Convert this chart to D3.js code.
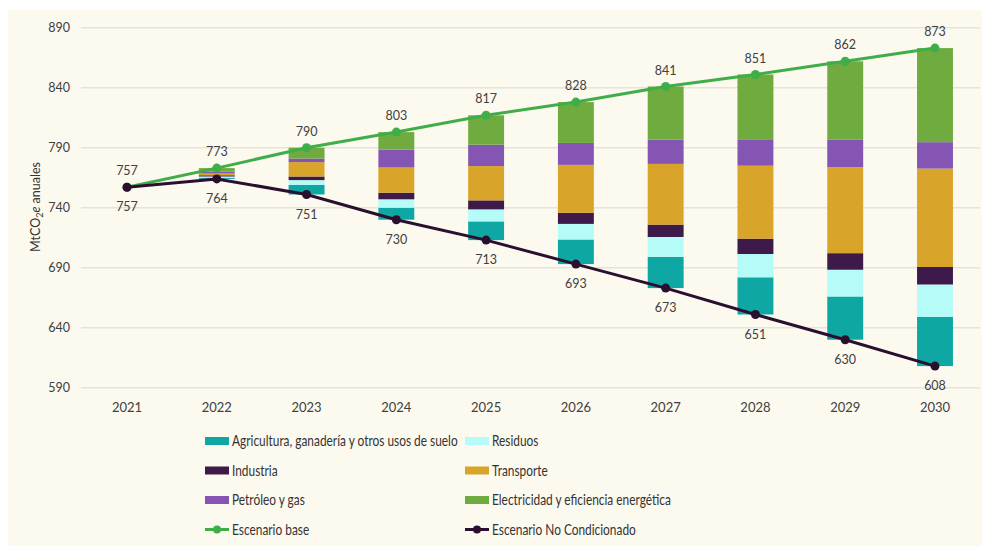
<!DOCTYPE html>
<html>
<head>
<meta charset="utf-8">
<script src="https://cdn.jsdelivr.net/npm/d3@7"></script>
<style>
  body { margin: 0; background: #ffffff; }
  text { font-family: Lato, "Open Sans", sans-serif; }
</style>
</head>
<body>
<script>
var width = 982;
var height = 546;

var years = ["2021","2022","2023","2024","2025","2026","2027","2028","2029","2030"];
var base = [757, 773, 790, 803, 817, 828, 841, 851, 862, 873];
var noCond = [757, 764, 751, 730, 713, 693, 673, 651, 630, 608];

// reducciones por sector (apiladas desde el escenario no condicionado)
var agricultura = [0, 1, 8, 10, 15.6, 20.5, 26, 31, 36, 41];
var residuos = [0, 1, 4, 7, 10, 13, 16.6, 19.4, 22.3, 27];
var industria = [0, 1, 3, 5.5, 7.5, 9.2, 10.3, 12.8, 13.8, 14.6];
var transporte = [0, 1.5, 12, 21, 28.6, 40, 50.6, 60.8, 71.7, 82];
var petroleo = [0, 1.5, 3, 15, 17.8, 18.3, 20.2, 22, 22.8, 22];
var electricidad = [0, 3, 9, 14.5, 24.5, 34, 44.3, 54, 65.4, 78.4];

var yTicks = [590, 640, 690, 740, 790, 840, 890];

var sectors = [
  {name: "Agricultura, ganadería y otros usos de suelo", values: agricultura, color: "#0fa7a4"},
  {name: "Residuos", values: residuos, color: "#b5fbf7"},
  {name: "Industria", values: industria, color: "#3d1a4a"},
  {name: "Transporte", values: transporte, color: "#d9a42a"},
  {name: "Petróleo y gas", values: petroleo, color: "#8455b3"},
  {name: "Electricidad y eficiencia energética", values: electricidad, color: "#6fab3e"}
];

var svg = d3.select("body")
    .append("svg")
    .attr("width", width)
    .attr("height", height);

svg.append("rect")
    .attr("x", 8).attr("y", 10)
    .attr("width", width - 8).attr("height", height - 10)
    .attr("fill", "#fcf9ef");

var x = d3.scalePoint().domain(years).range([127, 935]);
var y = d3.scaleLinear().domain([590, 890]).range([387.7, 27.7]);
var barW = x.step() * 0.4;

// grid
svg.selectAll(".grid")
    .data(yTicks)
    .enter().append("line")
    .attr("x1", 81).attr("x2", 980)
    .attr("y1", function(d){ return y(d); })
    .attr("y2", function(d){ return y(d); })
    .attr("stroke", "#e6e3dc")
    .attr("stroke-width", 1.5);

svg.selectAll(".ytick")
    .data(yTicks)
    .enter().append("text")
    .attr("x", 70)
    .attr("y", function(d){ return y(d); })
    .attr("dy", "0.35em")
    .attr("text-anchor", "end")
    .attr("font-size", 12.5)
    .attr("fill", "#404040")
    .text(function(d){ return d; });

svg.selectAll(".xtick")
    .data(years)
    .enter().append("text")
    .attr("x", function(d){ return x(d); })
    .attr("y", 412)
    .attr("text-anchor", "middle")
    .attr("font-size", 13)
    .attr("fill", "#404040")
    .text(function(d){ return d; });

var yt = svg.append("text")
    .attr("transform", "translate(40,207) rotate(-90)")
    .attr("text-anchor", "middle")
    .attr("font-size", 12.5)
    .attr("fill", "#333");
yt.append("tspan").text("MtCO");
yt.append("tspan").attr("font-size", 9).attr("dy", 3).text("2");
yt.append("tspan").attr("dy", -3).attr("font-style", "italic").text("e");
yt.append("tspan").text(" anuales");

// bars
years.forEach(function(yr, i) {
  var acc = noCond[i];
  sectors.forEach(function(s) {
    var v = s.values[i];
    if (v <= 0) return;
    svg.append("rect")
      .attr("x", x(yr) - barW / 2)
      .attr("width", barW)
      .attr("y", y(acc + v))
      .attr("height", y(acc) - y(acc + v))
      .attr("fill", s.color);
    acc += v;
  });
});

var line = d3.line()
    .x(function(d, i){ return x(years[i]); })
    .y(function(d){ return y(d); });

var lines = [
  {name: "Escenario base", values: base, color: "#3fae49", dy: -12},
  {name: "Escenario No Condicionado", values: noCond, color: "#2a0f2f", dy: 24}
];

lines.forEach(function(l) {
  svg.append("path")
    .attr("d", line(l.values))
    .attr("fill", "none")
    .attr("stroke", l.color)
    .attr("stroke-width", 3);
  svg.selectAll(null)
    .data(l.values)
    .enter().append("circle")
    .attr("cx", function(d, i){ return x(years[i]); })
    .attr("cy", function(d){ return y(d); })
    .attr("r", 4.5)
    .attr("fill", l.color);
  svg.selectAll(null)
    .data(l.values)
    .enter().append("text")
    .attr("x", function(d, i){ return x(years[i]); })
    .attr("y", function(d){ return y(d) + l.dy; })
    .attr("text-anchor", "middle")
    .attr("font-size", 12.5)
    .attr("fill", "#404040")
    .text(function(d){ return d; });
});

// legend
var legendItems = sectors.map(function(s) {
  return {name: s.name, color: s.color, type: "rect"};
}).concat(lines.map(function(l) {
  return {name: l.name, color: l.color, type: "line"};
}));

var legend = svg.selectAll(".legend")
    .data(legendItems)
    .enter().append("g")
    .attr("transform", function(d, i) {
      return "translate(" + (i % 2 === 0 ? 205 : 465) + "," + (441 + Math.floor(i / 2) * 29.5) + ")";
    });

legend.each(function(d) {
  var g = d3.select(this);
  if (d.type === "rect") {
    g.append("rect").attr("x", 0).attr("y", -4).attr("width", 24).attr("height", 8).attr("fill", d.color);
  } else {
    g.append("line").attr("x1", 0).attr("x2", 24).attr("y1", 0).attr("y2", 0)
      .attr("stroke", d.color).attr("stroke-width", 3);
    g.append("circle").attr("cx", 12).attr("cy", 0).attr("r", 4).attr("fill", d.color);
  }
  // condensed look of the original legend font
  g.append("text")
    .attr("transform", "translate(27,0) scale(0.82,1)")
    .attr("dy", "0.35em")
    .attr("font-size", 14.5)
    .attr("fill", "#333")
    .text(d.name);
});
</script>
</body>
</html>
